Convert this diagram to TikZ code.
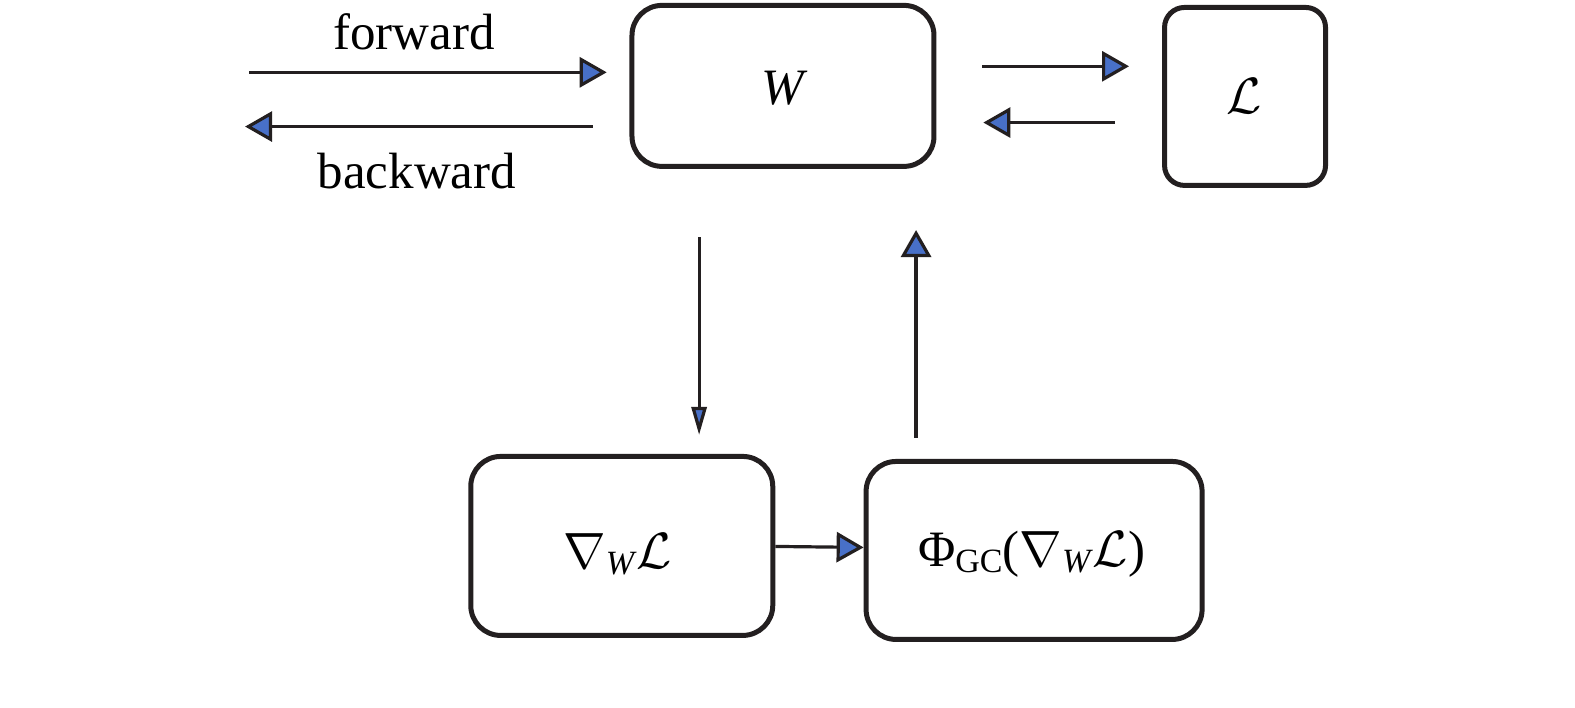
\RequirePackage{fix-cm}
\documentclass[tikz,border=0pt]{standalone}
\usepackage{fontspec}
\setmainfont{Liberation Serif}
\usetikzlibrary{arrows.meta}
\definecolor{headblue}{RGB}{72,112,200}
\definecolor{ink}{RGB}{35,31,32}
\begin{document}
\begin{tikzpicture}[x=1.0045pt,y=-1.0045pt,
  box/.style={draw=ink,line width=5pt,rounded corners=30pt,inner sep=0pt},
  conn/.style={draw=ink,line width=3.2pt,-{Triangle[length=27pt,width=30pt,fill=headblue,line width=3.2pt]}},
  thin/.style={draw=ink,line width=3.2pt,-{Triangle[length=28pt,width=15pt,fill=headblue,line width=3.2pt]}},
  lbl/.style={font=\fontsize{51}{60}\selectfont,inner sep=0pt}]
\useasboundingbox (0,0) rectangle (1568,704);
\node[box,minimum width=302pt,minimum height=161pt] (W) at (779.5,85.5) {};
\node[lbl] (Wt) at (781,88) {\textit{W}};
\node[box,rounded corners=20pt,minimum width=161pt,minimum height=178pt] (L) at (1239.5,96) {};
\node[lbl] (Lt) at (1239,96) {$\mathcal{L}$};
\node[box,minimum width=302pt,minimum height=179pt] (G) at (619,543.5) {};
\node[lbl] (Gt) at (615,552) {$\nabla$\raisebox{-0.25ex}{\fontsize{34}{40}\selectfont\textit{W}}$\mathcal{L}$};
\node[box,minimum width=336pt,minimum height=178pt] (P) at (1029.5,548) {};
\node[lbl] (Pt) at (1027,552) {Φ\raisebox{-0.25ex}{\fontsize{34}{40}\selectfont GC}($\nabla$\raisebox{-0.25ex}{\fontsize{34}{40}\selectfont\textit{W}}$\mathcal{L}$)};
\node[lbl] (fw) at (412,32) {forward};
\node[lbl] (bw) at (415,170) {backward};
\coordinate (f1) at (248,72); \coordinate (f2) at (604,72);
\coordinate (b1) at (590,126); \coordinate (b2) at (244,126);
\coordinate (wl1) at (978,66); \coordinate (wl2) at (1124,66);
\coordinate (lw1) at (1110,122); \coordinate (lw2) at (979,122);
\coordinate (d1) at (696,236); \coordinate (d2) at (696,433);
\coordinate (u1) at (912,436); \coordinate (u2) at (912,229);
\draw[conn] (f1) -- (f2);
\draw[conn] (b1) -- (b2);
\draw[conn] (wl1) -- (wl2);
\draw[conn] (lw1) -- (lw2);
\draw[thin] (d1) -- (d2);
\draw[conn] (u1) -- (u2);
\draw[conn] (G.east |- 0,544) -- (P.west |- 0,545);
\end{tikzpicture}
\end{document}
